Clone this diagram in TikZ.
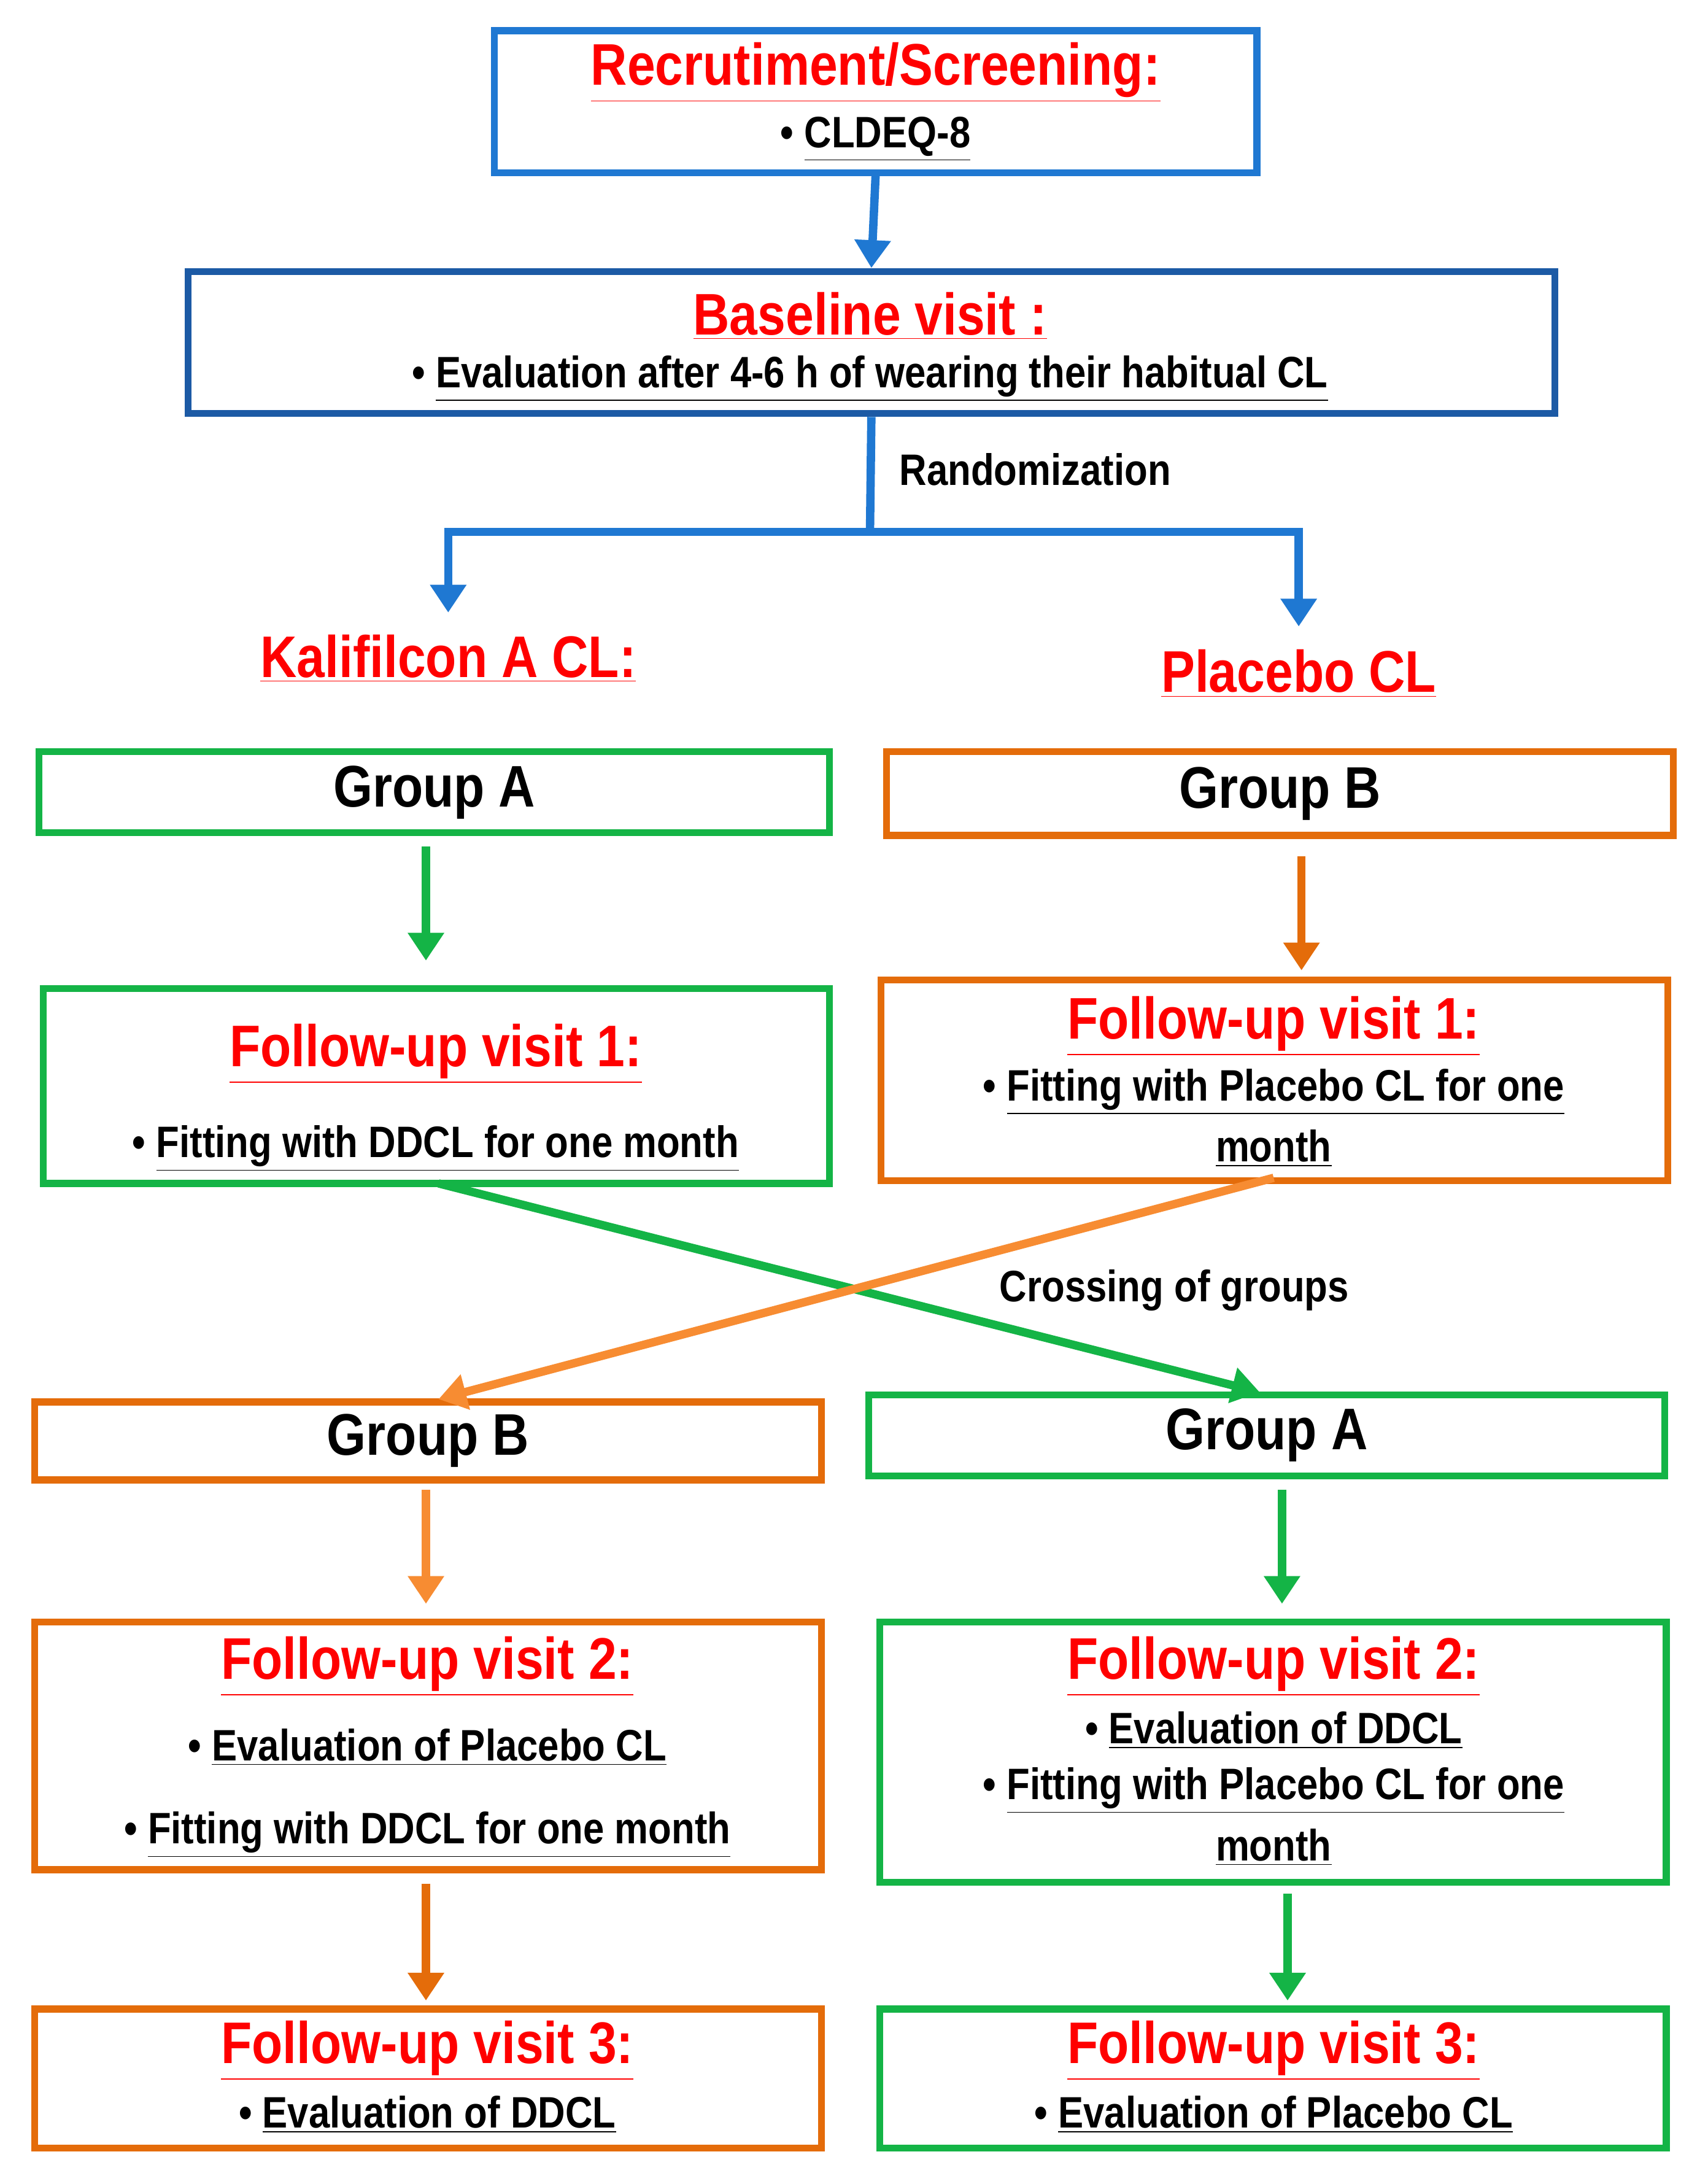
\documentclass[tikz,border=0pt]{standalone}
\usepackage{fontspec}
\setmainfont{Liberation Sans}[FakeStretch=0.86]
\usetikzlibrary{arrows.meta,fit}
\definecolor{cblue}{RGB}{31,120,210}
\definecolor{cdblue}{RGB}{28,90,165}
\definecolor{cgreen}{RGB}{20,180,70}
\definecolor{corange}{RGB}{228,108,10}
\definecolor{clorange}{RGB}{247,140,50}
\definecolor{cred}{RGB}{255,0,0}
\newcommand\ul[1]{\underline{#1}}
\begin{document}
\begin{tikzpicture}[x=0.02cm,y=-0.02cm,
  bx/.style={draw=#1,line width=0.1cm,inner sep=0pt},
  ttl/.style={text=cred,font=\bfseries\fontsize{24}{28}\selectfont},
  txt/.style={font=\bfseries\fontsize{18}{22}\selectfont,align=center},
  grp/.style={font=\bfseries\fontsize{24}{28}\selectfont},
  ar/.style={draw=#1,line width=0.12cm,-{Triangle[length=0.4cm,width=0.5cm]}}]
\useasboundingbox (0,0) rectangle (1227,1563);
% boxes
\node[bx=cblue,fit={(355,22)(903,124)}] (rec) {};
\node[bx=cdblue,fit={(135,195)(1117,297)}] (base) {};
\node[bx=cgreen,fit={(28,540)(596,598)}] (gA1) {};
\node[bx=corange,fit={(637,540)(1202,600)}] (gB1) {};
\node[bx=cgreen,fit={(31,710)(596,850)}] (fL1) {};
\node[bx=corange,fit={(633,704)(1198,848)}] (fR1) {};
\node[bx=corange,fit={(25,1007)(590,1063)}] (gB2) {};
\node[bx=cgreen,fit={(624,1002)(1196,1060)}] (gA2) {};
\node[bx=corange,fit={(25,1165)(590,1343)}] (fL2) {};
\node[bx=cgreen,fit={(632,1165)(1197,1352)}] (fR2) {};
\node[bx=corange,fit={(25,1443)(590,1543)}] (fL3) {};
\node[bx=cgreen,fit={(632,1443)(1197,1543)}] (fR3) {};
% texts
\node[ttl] (t1) at (629,52) {\ul{Recrutiment/Screening:}};
\node[txt] (b1) at (629,100) {• \ul{CLDEQ-8}};
\node[ttl] (t2) at (625,227) {\ul{Baseline visit :}};
\node[txt] (b2) at (625,272) {• \ul{Evaluation after 4-6 h of wearing their habitual CL}};
\node[txt,anchor=west] (rand) at (640,337) {Randomization};
\node[ttl] (kal) at (322,473) {\ul{Kalifilcon A CL:}};
\node[ttl] (pla) at (933,484) {\ul{Placebo CL}};
\node[grp] at (gA1) {Group A};
\node[grp] at (gB1) {Group B};
\node[ttl] at (313,757) {\ul{Follow-up visit 1:}};
\node[txt] at (313,825) {• \ul{Fitting with DDCL for one month}};
\node[ttl] at (915,737) {\ul{Follow-up visit 1:}};
\node[txt] at (915,803) {• \ul{Fitting with Placebo CL for one}\\[3pt] \ul{month}};
\node[txt,anchor=west] (cross) at (712,927) {Crossing of groups};
\node[grp] at (gB2) {Group B};
\node[grp] at (gA2) {Group A};
\node[ttl] at (307,1197) {\ul{Follow-up visit 2:}};
\node[txt] at (307,1255) {• \ul{Evaluation of Placebo CL}};
\node[txt] at (307,1318) {• \ul{Fitting with DDCL for one month}};
\node[ttl] at (915,1197) {\ul{Follow-up visit 2:}};
\node[txt] at (915,1243) {• \ul{Evaluation of DDCL}};
\node[txt] at (915,1305) {• \ul{Fitting with Placebo CL for one}\\[3pt] \ul{month}};
\node[ttl] at (307,1473) {\ul{Follow-up visit 3:}};
\node[txt] at (307,1519) {• \ul{Evaluation of DDCL}};
\node[ttl] at (915,1473) {\ul{Follow-up visit 3:}};
\node[txt] at (915,1519) {• \ul{Evaluation of Placebo CL}};
% connector points
\coordinate (split) at (625,382);
\coordinate (kalT) at (322,440);
\coordinate (plaT) at (933,450);
\coordinate (gA1s) at (306,608); \coordinate (fL1n) at (306,690);
\coordinate (gB1s) at (935,615); \coordinate (fR1n) at (935,697);
\coordinate (fL1s) at (315,850); \coordinate (gA2n) at (905,1000);
\coordinate (fR1s) at (915,846); \coordinate (gB2n) at (315,1005);
\coordinate (gB2s) at (306,1070); \coordinate (fL2n) at (306,1152);
\coordinate (gA2s) at (921,1070); \coordinate (fR2n) at (921,1152);
\coordinate (fL2s) at (306,1353); \coordinate (fL3n) at (306,1437);
\coordinate (fR2s) at (925,1360); \coordinate (fR3n) at (925,1437);
% connectors
\draw[ar=cblue] (rec.south) -- (base.north);
\draw[draw=cblue,line width=0.12cm] (base.south) -- (split);
\draw[ar=cblue] (split) -| (kalT);
\draw[ar=cblue] (split) -| (plaT);
\draw[ar=cgreen] (gA1s) -- (fL1n);
\draw[ar=corange] (gB1s) -- (fR1n);
\draw[ar=cgreen] (fL1s) -- (gA2n);
\draw[ar=clorange] (fR1s) -- (gB2n);
\draw[ar=clorange] (gB2s) -- (fL2n);
\draw[ar=cgreen] (gA2s) -- (fR2n);
\draw[ar=corange] (fL2s) -- (fL3n);
\draw[ar=cgreen] (fR2s) -- (fR3n);
\end{tikzpicture}
\end{document}
